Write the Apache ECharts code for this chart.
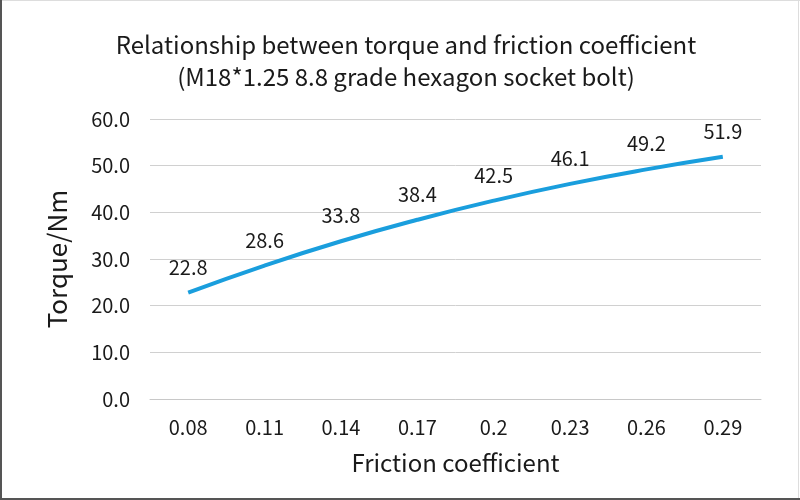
<!DOCTYPE html>
<html>
<head>
<meta charset="utf-8">
<script src="https://cdn.jsdelivr.net/npm/echarts@6/dist/echarts.min.js"></script>
<style>html,body{margin:0;padding:0;background:#fff}#c{width:800px;height:500px}</style>
</head>
<body>
<div id="c"></div>
<script>
const titleLines = ['Relationship between torque and friction coefficient', '(M18*1.25 8.8 grade hexagon socket bolt)'];
const categories = ['0.08', '0.11', '0.14', '0.17', '0.2', '0.23', '0.26', '0.29'];
const torque = [22.8, 28.6, 33.8, 38.4, 42.5, 46.1, 49.2, 51.9];
const yAxisName = 'Torque/Nm';
const xAxisName = 'Friction coefficient';

const font = '"Noto Sans CJK SC", "Noto Sans", sans-serif';
const chart = echarts.init(document.getElementById('c'), null, {renderer: 'canvas'});
chart.setOption({
  backgroundColor: '#fff',
  animation: false,
  grid: {left: 150, right: 39, top: 119, bottom: 101, containLabel: false},
  xAxis: {
    type: 'category',
    data: categories,
    name: xAxisName,
    nameLocation: 'middle',
    nameGap: 52,
    nameTextStyle: {fontFamily: font, fontSize: 24, color: '#1a1a1a'},
    axisLine: {lineStyle: {color: '#c8c8c8', width: 1}},
    axisTick: {show: false},
    axisLabel: {fontFamily: font, fontSize: 20, color: '#1a1a1a', margin: 18}
  },
  yAxis: {
    type: 'value',
    min: 0, max: 60, interval: 10,
    name: yAxisName,
    nameLocation: 'middle',
    nameGap: 80,
    nameRotate: 90,
    nameTextStyle: {fontFamily: font, fontSize: 26, color: '#1a1a1a'},
    axisLine: {show: false},
    axisTick: {show: false},
    splitLine: {lineStyle: {color: '#d0d0d0', width: 1}},
    axisLabel: {fontFamily: font, fontSize: 20, color: '#1a1a1a', margin: 20, formatter: v => v.toFixed(1)}
  },
  series: [{
    type: 'line',
    data: torque,
    smooth: true,
    symbol: 'circle',
    symbolSize: 1,
    showSymbol: true,
    itemStyle: {color: 'rgba(0,0,0,0)'},
    lineStyle: {color: '#1a9edd', width: 4},
    label: {show: true, position: 'top', distance: 15, fontFamily: font, fontSize: 20, color: '#1a1a1a', formatter: p => p.value.toFixed(1)}
  }],
  graphic: [
    {type: 'text', x: 406, y: 45, style: {text: titleLines[0], font: '24px ' + font, fill: '#1a1a1a', textAlign: 'center', textVerticalAlign: 'middle'}},
    {type: 'text', x: 406, y: 77, style: {text: titleLines[1], font: '24px ' + font, fill: '#1a1a1a', textAlign: 'center', textVerticalAlign: 'middle'}},
    {type: 'line', shape: {x1: 0, y1: 0.5, x2: 800, y2: 0.5}, style: {stroke: '#ddd', lineWidth: 1}},
    {type: 'line', shape: {x1: 798.5, y1: 0, x2: 798.5, y2: 500}, style: {stroke: '#ddd', lineWidth: 1}},
    {type: 'line', shape: {x1: 1, y1: 0, x2: 1, y2: 500}, style: {stroke: '#555', lineWidth: 2}},
    {type: 'line', shape: {x1: 0, y1: 499, x2: 800, y2: 499}, style: {stroke: '#555', lineWidth: 2}}
  ]
});
</script>
</body>
</html>
